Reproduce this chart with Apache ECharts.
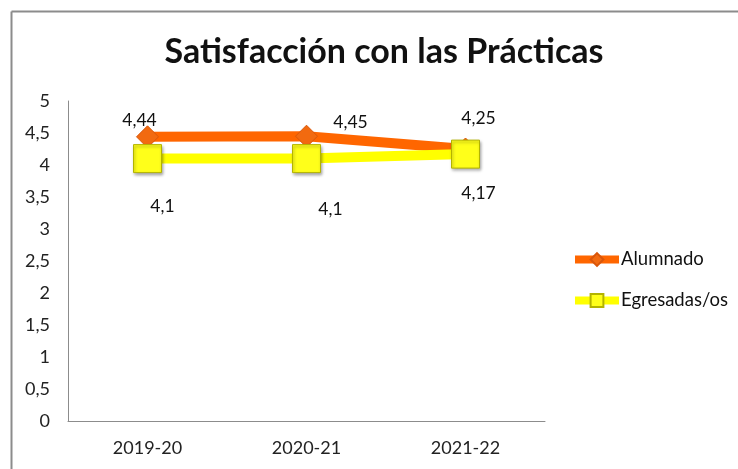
<!DOCTYPE html>
<html>
<head>
<meta charset="utf-8">
<script src="https://cdn.jsdelivr.net/npm/echarts@6/dist/echarts.min.js"></script>
<style>
  html, body { margin: 0; padding: 0; background: #fff; }
  #chart { width: 738px; height: 469px; }
</style>
</head>
<body>
<div id="chart"></div>
<script>
// datos
const categories = ['2019-20', '2020-21', '2021-22']
const alumnado = [4.44, 4.45, 4.25]
const egresadas = [4.1, 4.1, 4.17]

// posiciones de las etiquetas (desplazamientos respecto al punto)
const alumnadoOffsets = [[-8, 9.5], [44, 11.5], [13, -5.5]]
const egresadasOffsets = [[15, 19.5], [24, 22.5], [13, 10.5]]

const font = 'Lato, "Open Sans", sans-serif'

function withLabels(values, offsets, pos) {
  return values.map((v, i) => ({
    value: v,
    label: { position: pos, offset: offsets[i] },
  }))
}

const comma = v => String(v).replace('.', ',')

const chart = echarts.init(document.getElementById('chart'))

chart.setOption({
  backgroundColor: '#fff',
  animation: false,
  title: {
    text: 'Satisfacción con las Prácticas',
    left: 379,
    top: 30,
    textAlign: 'center',
    textStyle: { fontFamily: font, fontSize: 34, fontWeight: 'bold', color: '#111' },
  },
  legend: {
    orient: 'vertical',
    left: 566,
    top: 245,
    itemWidth: 44,
    itemHeight: 16,
    itemGap: 22,
    lineStyle: { width: 8 },
    textStyle: { fontFamily: font, fontSize: 18.5, color: '#111', padding: [0, 0, 0, -3] },
    data: ['Alumnado', 'Egresadas/os'],
  },
  grid: { left: 68, right: 193, top: 101, bottom: 48 },
  xAxis: {
    type: 'category',
    data: categories,
    axisLine: { lineStyle: { color: '#8c8c8c', width: 1 } },
    axisTick: { show: false },
    axisLabel: { fontFamily: font, fontSize: 18, color: '#222', margin: 18 },
  },
  yAxis: {
    type: 'value',
    min: 0,
    max: 5,
    interval: 0.5,
    axisLine: { show: true, lineStyle: { color: '#8c8c8c', width: 1 } },
    axisTick: { show: false },
    splitLine: { show: false },
    axisLabel: {
      fontFamily: font, fontSize: 18, color: '#222', margin: 18,
      formatter: comma,
    },
  },
  graphic: [
    { type: 'line', shape: { x1: 11.5, y1: 11.5, x2: 738, y2: 11.5 }, style: { stroke: '#8c8c8c', lineWidth: 2 } },
    { type: 'line', shape: { x1: 11.5, y1: 11.5, x2: 11.5, y2: 469 }, style: { stroke: '#8c8c8c', lineWidth: 2 } },
  ],
  series: [
    {
      name: 'Alumnado',
      type: 'line',
      data: withLabels(alumnado, alumnadoOffsets, 'top'),
      symbol: 'diamond',
      symbolSize: 22,
      lineStyle: { color: '#ff6600', width: 10 },
      itemStyle: { color: '#f26a10', borderColor: '#d9560a', borderWidth: 1 },
      label: {
        show: true,
        fontFamily: font, fontSize: 17.5, color: '#111',
        formatter: p => comma(p.value),
      },
    },
    {
      name: 'Egresadas/os',
      type: 'line',
      data: withLabels(egresadas, egresadasOffsets, 'bottom'),
      symbol: 'rect',
      symbolSize: 28,
      lineStyle: { color: '#ffff00', width: 10 },
      itemStyle: {
        color: '#ffff1a', borderColor: '#b3b300', borderWidth: 1,
        shadowColor: 'rgba(0,0,0,0.35)', shadowBlur: 3, shadowOffsetX: 1, shadowOffsetY: 2,
      },
      label: {
        show: true,
        fontFamily: font, fontSize: 17.5, color: '#111',
        formatter: p => comma(p.value),
      },
    },
  ],
})
</script>
</body>
</html>
